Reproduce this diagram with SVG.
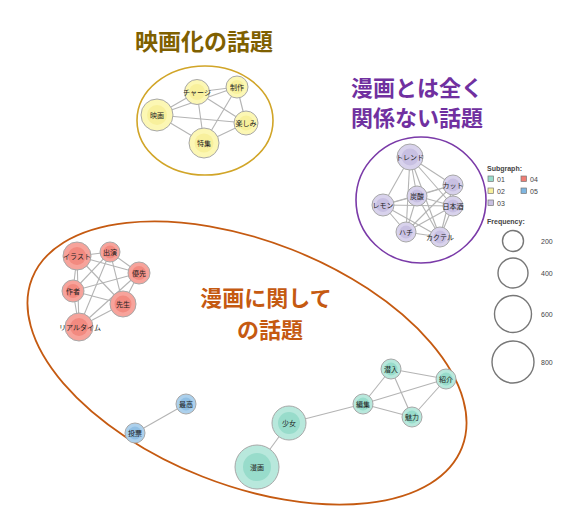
<svg xmlns="http://www.w3.org/2000/svg" width="586" height="517" viewBox="0 0 586 517">
<style>
.t{font-family:"Noto Sans CJK JP","Noto Sans",sans-serif;font-weight:bold;text-anchor:middle}
.l{font-family:"Noto Sans CJK JP","Noto Sans",sans-serif;font-size:7px;text-anchor:middle;dominant-baseline:central;fill:#222}
.e line{stroke:#b4b4b4;stroke-width:1.1}
.n{stroke:#a8a8a8;stroke-width:1}
.y{fill:#fcf7b4}.yi{fill:#f8f09c}
.p{fill:#d8d2ec}.pi{fill:#c8c0e2}
.r{fill:#f7a39b}.ri{fill:#f28a80}
.b{fill:#acd0ec}.bi{fill:#90bfe4}
.g{fill:#b8e8dc}.gi{fill:#98dccb}
.lg{font-family:"Liberation Sans",Arial,sans-serif;font-size:7px;fill:#444}
.lc{fill:none;stroke:#777;stroke-width:1.4}
</style>
<rect width="586" height="517" fill="#fff"/>
<!-- group outlines -->
<ellipse cx="205" cy="120.5" rx="68" ry="54.5" fill="none" stroke="#d1a528" stroke-width="1.6"/>
<ellipse cx="421" cy="200" rx="65" ry="63" fill="none" stroke="#7a3aa8" stroke-width="1.6"/>
<ellipse cx="247" cy="363" rx="231" ry="122" transform="rotate(21.5 247 363)" fill="none" stroke="#c55a11" stroke-width="1.8"/>
<!-- titles -->
<text class="t" x="204" y="50" font-size="23" fill="#7f6000">映画化の話題</text>
<text class="t" x="417" y="96" font-size="22" fill="#7030a0">漫画とは全く</text>
<text class="t" x="417" y="126" font-size="22" fill="#7030a0">関係ない話題</text>
<text class="t" x="266" y="306" font-size="22" fill="#c55a11">漫画に関して</text>
<text class="t" x="270" y="338" font-size="22" fill="#c55a11">の話題</text>
<!-- connectors -->
<g id="connectors" class="e">
<!-- yellow K5 -->
<line x1="197" y1="92" x2="237" y2="87"/><line x1="197" y1="92" x2="157" y2="115"/><line x1="197" y1="92" x2="246" y2="123"/><line x1="197" y1="92" x2="204" y2="143"/>
<line x1="237" y1="87" x2="157" y2="115"/><line x1="237" y1="87" x2="246" y2="123"/><line x1="237" y1="87" x2="204" y2="143"/>
<line x1="157" y1="115" x2="246" y2="123"/><line x1="157" y1="115" x2="204" y2="143"/><line x1="204" y1="143" x2="246" y2="123"/>
<!-- purple -->
<line x1="410" y1="157" x2="453" y2="185"/><line x1="410" y1="157" x2="417" y2="196"/><line x1="410" y1="157" x2="383" y2="205"/><line x1="410" y1="157" x2="453" y2="206"/><line x1="410" y1="157" x2="406" y2="232"/><line x1="410" y1="157" x2="440" y2="237"/>
<line x1="453" y1="185" x2="417" y2="196"/><line x1="453" y1="185" x2="383" y2="205"/><line x1="453" y1="185" x2="453" y2="206"/><line x1="453" y1="185" x2="406" y2="232"/><line x1="453" y1="185" x2="440" y2="237"/>
<line x1="417" y1="196" x2="383" y2="205"/><line x1="417" y1="196" x2="453" y2="206"/><line x1="417" y1="196" x2="406" y2="232"/><line x1="417" y1="196" x2="440" y2="237"/>
<line x1="383" y1="205" x2="453" y2="206"/><line x1="383" y1="205" x2="406" y2="232"/><line x1="383" y1="205" x2="440" y2="237"/>
<line x1="453" y1="206" x2="406" y2="232"/><line x1="453" y1="206" x2="440" y2="237"/><line x1="406" y1="232" x2="440" y2="237"/>
<!-- red K6 -->
<line x1="77" y1="256" x2="110" y2="252"/><line x1="77" y1="256" x2="139" y2="273"/><line x1="77" y1="256" x2="73" y2="291"/><line x1="77" y1="256" x2="123" y2="304"/><line x1="77" y1="256" x2="79" y2="327"/>
<line x1="110" y1="252" x2="139" y2="273"/><line x1="110" y1="252" x2="73" y2="291"/><line x1="110" y1="252" x2="123" y2="304"/><line x1="110" y1="252" x2="79" y2="327"/>
<line x1="139" y1="273" x2="73" y2="291"/><line x1="139" y1="273" x2="123" y2="304"/><line x1="139" y1="273" x2="79" y2="327"/>
<line x1="73" y1="291" x2="123" y2="304"/><line x1="73" y1="291" x2="79" y2="327"/><line x1="123" y1="304" x2="79" y2="327"/>
<!-- blue -->
<line x1="135" y1="433" x2="186" y2="404"/>
<!-- teal -->
<line x1="257" y1="467" x2="289" y2="423"/><line x1="289" y1="423" x2="363" y2="404"/>
<line x1="363" y1="404" x2="391" y2="369"/><line x1="363" y1="404" x2="446" y2="379"/><line x1="363" y1="404" x2="412" y2="417"/>
<line x1="391" y1="369" x2="446" y2="379"/><line x1="391" y1="369" x2="412" y2="417"/><line x1="446" y1="379" x2="412" y2="417"/>
</g>
<!-- yellow nodes -->
<g id="n-charge"><circle class="n y" cx="197" cy="92" r="12.5"/><circle class="yi" cx="197" cy="92" r="8"/><text class="l" x="197" y="92">チャージ</text></g>
<g id="n-seisaku"><circle class="n y" cx="237" cy="87" r="11"/><circle class="yi" cx="237" cy="87" r="7"/><text class="l" x="237" y="87">制作</text></g>
<g id="n-eiga"><circle class="n y" cx="157" cy="115" r="16"/><circle class="yi" cx="157" cy="115" r="10"/><text class="l" x="157" y="115">映画</text></g>
<g id="n-tanoshimi"><circle class="n y" cx="246" cy="123" r="12"/><circle class="yi" cx="246" cy="123" r="7.5"/><text class="l" x="246" y="123">楽しみ</text></g>
<g id="n-tokushu"><circle class="n y" cx="204" cy="143" r="15"/><circle class="yi" cx="204" cy="143" r="9.5"/><text class="l" x="204" y="143">特集</text></g>
<!-- purple nodes -->
<g id="n-trend"><circle class="n p" cx="410" cy="157" r="13"/><circle class="pi" cx="410" cy="157" r="8.5"/><text class="l" x="410" y="157">トレンド</text></g>
<g id="n-cut"><circle class="n p" cx="453" cy="185" r="10"/><circle class="pi" cx="453" cy="185" r="6.5"/><text class="l" x="453" y="185">カット</text></g>
<g id="n-tansan"><circle class="n p" cx="417" cy="196" r="10"/><circle class="pi" cx="417" cy="196" r="6.5"/><text class="l" x="417" y="196">炭酸</text></g>
<g id="n-lemon"><circle class="n p" cx="383" cy="205" r="11"/><circle class="pi" cx="383" cy="205" r="7"/><text class="l" x="383" y="205">レモン</text></g>
<g id="n-nihonshu"><circle class="n p" cx="453" cy="206" r="10"/><circle class="pi" cx="453" cy="206" r="6.5"/><text class="l" x="453" y="206">日本酒</text></g>
<g id="n-hachi"><circle class="n p" cx="406" cy="232" r="10"/><circle class="pi" cx="406" cy="232" r="6.5"/><text class="l" x="406" y="232">ハチ</text></g>
<g id="n-cocktail"><circle class="n p" cx="440" cy="237" r="10"/><circle class="pi" cx="440" cy="237" r="6.5"/><text class="l" x="440" y="237">カクテル</text></g>
<!-- red nodes -->
<g id="n-illust"><circle class="n r" cx="77" cy="256" r="14"/><circle class="ri" cx="77" cy="256" r="9"/><text class="l" x="77" y="256">イラスト</text></g>
<g id="n-shutsuen"><circle class="n r" cx="110" cy="252" r="10"/><circle class="ri" cx="110" cy="252" r="6.5"/><text class="l" x="110" y="252">出演</text></g>
<g id="n-yusen"><circle class="n r" cx="139" cy="273" r="11"/><circle class="ri" cx="139" cy="273" r="7"/><text class="l" x="139" y="273">優先</text></g>
<g id="n-sakusha"><circle class="n r" cx="73" cy="291" r="11"/><circle class="ri" cx="73" cy="291" r="7"/><text class="l" x="73" y="291">作者</text></g>
<g id="n-sensei"><circle class="n r" cx="123" cy="304" r="13"/><circle class="ri" cx="123" cy="304" r="8.5"/><text class="l" x="123" y="304">先生</text></g>
<g id="n-realtime"><circle class="n r" cx="79" cy="327" r="14"/><circle class="ri" cx="79" cy="327" r="9"/><text class="l" x="80" y="327">リアルタイム</text></g>
<!-- blue nodes -->
<g id="n-saiko"><circle class="n b" cx="186" cy="404" r="10"/><circle class="bi" cx="186" cy="404" r="6.5"/><text class="l" x="186" y="404">最高</text></g>
<g id="n-tohyo"><circle class="n b" cx="135" cy="433" r="10"/><circle class="bi" cx="135" cy="433" r="6.5"/><text class="l" x="135" y="433">投票</text></g>
<!-- teal nodes -->
<g id="n-shojo"><circle class="n g" cx="289" cy="423" r="17"/><circle class="gi" cx="289" cy="423" r="11"/><text class="l" x="289" y="423">少女</text></g>
<g id="n-manga"><circle class="n g" cx="257" cy="467" r="22"/><circle class="gi" cx="257" cy="467" r="14"/><text class="l" x="257" y="467">漫画</text></g>
<g id="n-sennyu"><circle class="n g" cx="391" cy="369" r="10"/><circle class="gi" cx="391" cy="369" r="6.5"/><text class="l" x="391" y="369">潜入</text></g>
<g id="n-shokai"><circle class="n g" cx="446" cy="379" r="10"/><circle class="gi" cx="446" cy="379" r="6.5"/><text class="l" x="446" y="379">紹介</text></g>
<g id="n-henshu"><circle class="n g" cx="363" cy="404" r="10"/><circle class="gi" cx="363" cy="404" r="6.5"/><text class="l" x="363" y="404">編集</text></g>
<g id="n-miryoku"><circle class="n g" cx="412" cy="417" r="10"/><circle class="gi" cx="412" cy="417" r="6.5"/><text class="l" x="412" y="417">魅力</text></g>
<!-- legend -->
<g id="legend">
<text class="lg" x="487" y="171" font-weight="bold" fill="#222">Subgraph:</text>
<rect x="488" y="176" width="5.5" height="5.5" fill="#98dccb" stroke="#777" stroke-width="0.7"/><text class="lg" x="497" y="182">01</text>
<rect x="488" y="188" width="5.5" height="5.5" fill="#f8f09c" stroke="#777" stroke-width="0.7"/><text class="lg" x="497" y="194">02</text>
<rect x="488" y="200" width="5.5" height="5.5" fill="#c8c0e2" stroke="#777" stroke-width="0.7"/><text class="lg" x="497" y="206">03</text>
<rect x="521" y="176" width="5.5" height="5.5" fill="#f07d74" stroke="#777" stroke-width="0.7"/><text class="lg" x="530" y="182">04</text>
<rect x="521" y="188" width="5.5" height="5.5" fill="#7fb6e0" stroke="#777" stroke-width="0.7"/><text class="lg" x="530" y="194">05</text>
<text class="lg" x="487" y="224" font-weight="bold" fill="#222">Frequency:</text>
<circle class="lc" cx="513" cy="241" r="10.5"/><text class="lg" x="541" y="243.5">200</text>
<circle class="lc" cx="513" cy="273" r="15"/><text class="lg" x="541" y="275.5">400</text>
<circle class="lc" cx="513" cy="314" r="18.5"/><text class="lg" x="541" y="316.5">600</text>
<circle class="lc" cx="513" cy="362" r="21"/><text class="lg" x="541" y="364.5">800</text>
</g>
</svg>
